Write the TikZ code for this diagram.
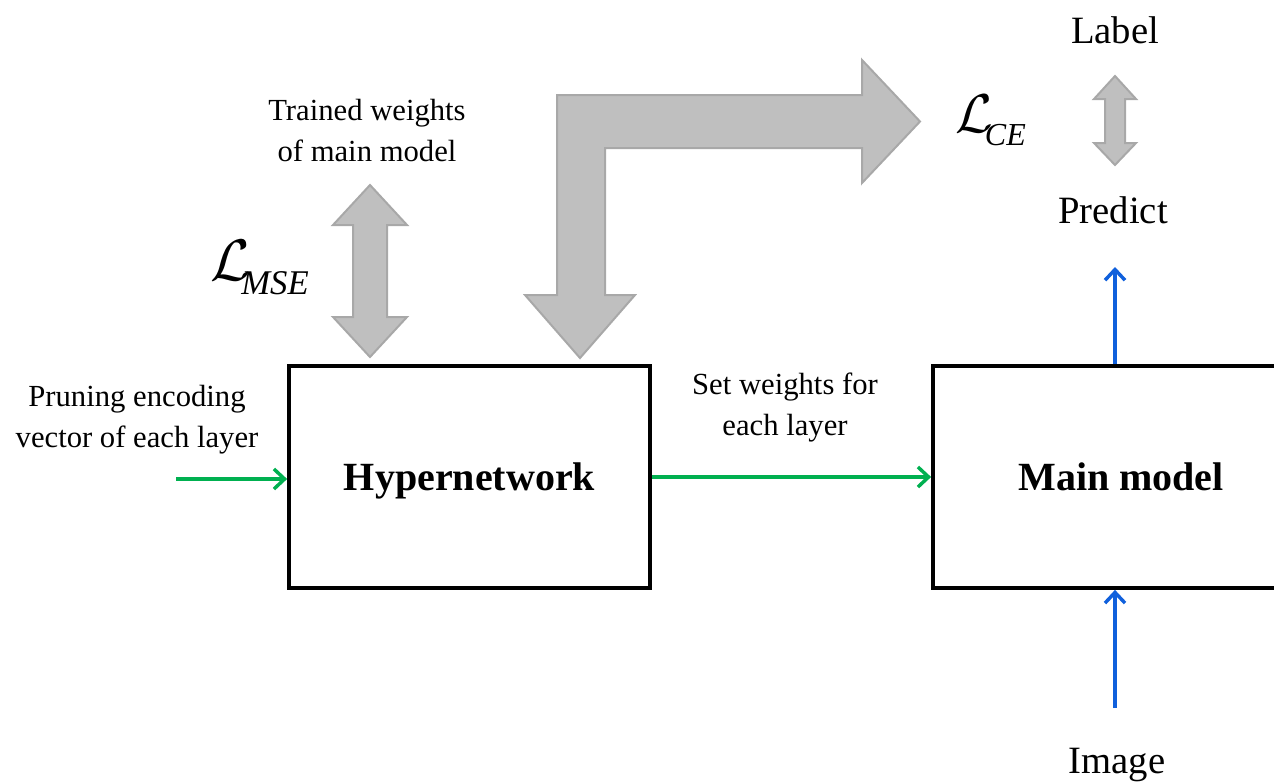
\documentclass[tikz,border=0pt]{standalone}
\usepackage{graphicx}
\usepackage{fontspec}
\setmainfont{Liberation Serif}
\usetikzlibrary{arrows.meta,calc}
\definecolor{arrgray}{HTML}{BFBFBF}
\definecolor{arrgrayline}{HTML}{A8A8A8}
\definecolor{pgreen}{HTML}{00B050}
\definecolor{pblue}{HTML}{1060DC}
\tikzset{
  box/.style={draw=black,line width=2.8pt,minimum height=166.5pt,inner sep=0pt,
    font=\fontsize{30}{36}\selectfont\bfseries,text height=20pt,text depth=0pt},
  smalltxt/.style={font=\fontsize{23}{30.75}\selectfont,align=center,inner sep=0pt},
  bigtxt/.style={font=\fontsize{29}{34}\selectfont,inner sep=0pt},
  fat/.style={fill=arrgray,draw=arrgrayline,line width=1.5pt,line join=miter},
  greenarr/.style={draw=pgreen,line width=2.6pt,-{Straight Barb[length=8pt,width=15pt,line width=2.6pt]}},
  bluearr/.style={draw=pblue,line width=2.6pt,-{Straight Barb[length=8pt,width=15pt,line width=2.6pt]}},
}
\begin{document}
\begin{tikzpicture}[x=0.75pt,y=-0.75pt]
\clip (0,0) rectangle (1274,783);
\useasboundingbox (0,0) rectangle (1274,783);
% boxes
\node[box,minimum width=270.75pt] (hyper) at (469.5,477) {Hypernetwork};
\node[box,minimum width=282pt] (main) at (1121,477) {Main model};
% texts
\node[smalltxt] (prun) at (137,420) {Pruning encoding\\vector of each layer};
\node[smalltxt] (trained) at (367,131) {Trained weights\\of main model};
\node[smalltxt] (setw) at (785,408) {Set weights for\\each layer};
\node[bigtxt,anchor=base] (label) at (1115,43) {Label};
\node[bigtxt,anchor=base] (pred) at (1113,223) {Predict};
\node[bigtxt,anchor=base] (image) at (1117,773) {Image};
% losses
\node[anchor=base west,inner sep=0pt] (lmse) at (210,280) {\resizebox{!}{30pt}{$\mathcal{L}$}\kern-7pt\raisebox{-11pt}{\fontsize{26}{30}\selectfont\itshape MSE}};
\node[anchor=base west,inner sep=0pt] (lce) at (955,132) {\resizebox{!}{28pt}{$\mathcal{L}$}\kern-6pt\raisebox{-10pt}{\fontsize{24}{30}\selectfont\itshape CE}};
% fat gray arrows
\draw[fat] (370,185) -- (407,225) -- (387,225) -- (387,317) -- (407,317) -- (370,357) -- (333,317) -- (353,317) -- (353,225) -- (333,225) -- cycle;
\draw[fat] (557,95) -- (862,95) -- (862,60) -- (920,121.5) -- (862,183) -- (862,148) -- (605,148) -- (605,295) -- (635,295) -- (580,358) -- (525,295) -- (557,295) -- cycle;
\draw[fat] (1115,76) -- (1136,99) -- (1125,99) -- (1125,143) -- (1136,143) -- (1115,165) -- (1094,143) -- (1105,143) -- (1105,99) -- (1094,99) -- cycle;
% connectors
\coordinate (pruns) at (176,479);
\draw[greenarr] (pruns) -- (pruns -| hyper.west);
\draw[greenarr] (hyper.east) -- (main.west);
\coordinate (predarr) at (1115,267);
\draw[bluearr] (predarr |- main.north) -- (predarr);
\coordinate (imgarr) at (1115,708);
\draw[bluearr] (imgarr) -- (imgarr |- main.south);
\end{tikzpicture}
\end{document}
